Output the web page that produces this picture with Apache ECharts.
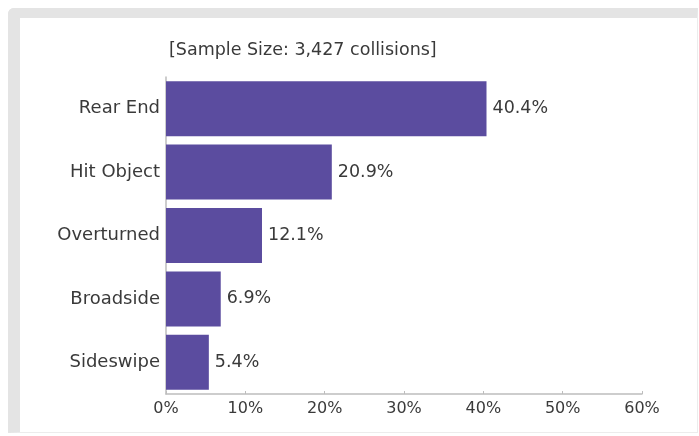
<!DOCTYPE html>
<html>
<head>
<meta charset="utf-8">
<script src="https://cdn.jsdelivr.net/npm/echarts@6/dist/echarts.min.js"></script>
<style>
html,body{margin:0;padding:0;background:#ffffff;}
#frame{position:absolute;left:8px;top:8px;width:677px;height:414px;border-left:12px solid #e4e4e4;border-top:10px solid #e4e4e4;border-right:1px solid #ececec;border-bottom:1px solid #ececec;border-top-left-radius:6px;background:#fff;}
#chart{position:absolute;left:0;top:0;width:699px;height:436px;}
</style>
</head>
<body>
<div id="frame"></div>
<div id="chart"></div>
<script>
const categories = ["Rear End", "Hit Object", "Overturned", "Broadside", "Sideswipe"];
const values = [40.4, 20.9, 12.1, 6.9, 5.4];
const titleText = "[Sample Size: 3,427 collisions]";
const xMin = 0, xMax = 60, xStep = 10;

const FONT = "DejaVu Sans";
const TEXT = "#3a3a3a";
const chart = echarts.init(document.getElementById('chart'), null, {renderer: 'canvas'});
chart.setOption({
  backgroundColor: 'transparent',
  animation: false,
  title: {
    text: titleText, left: 164, top: 36,
    textStyle: {fontFamily: FONT, fontSize: 17.5, fontWeight: 'normal', color: TEXT}
  },
  grid: {left: 166, top: 77, width: 476, height: 317, containLabel: false},
  xAxis: {
    type: 'value', min: xMin, max: xMax, interval: xStep,
    axisLine: {show: true, lineStyle: {color: '#bdbdbd', width: 1.5}},
    axisTick: {show: true, inside: true, length: 3, lineStyle: {color: '#bdbdbd'}},
    splitLine: {show: false},
    axisLabel: {formatter: '{value}%', fontFamily: FONT, fontSize: 16, color: TEXT, margin: 7}
  },
  yAxis: {
    type: 'category', data: categories, inverse: true,
    axisLine: {show: true, lineStyle: {color: '#bdbdbd', width: 1.5}},
    axisTick: {show: false},
    axisLabel: {fontFamily: FONT, fontSize: 18, color: TEXT, margin: 6}
  },
  series: [{
    type: 'bar', data: values, barWidth: 55,
    itemStyle: {color: '#5b4c9f'},
    label: {show: true, position: 'right', distance: 6, formatter: p => p.value.toFixed(1) + '%',
      fontFamily: FONT, fontSize: 17.5, color: TEXT}
  }]
});
</script>
</body>
</html>
